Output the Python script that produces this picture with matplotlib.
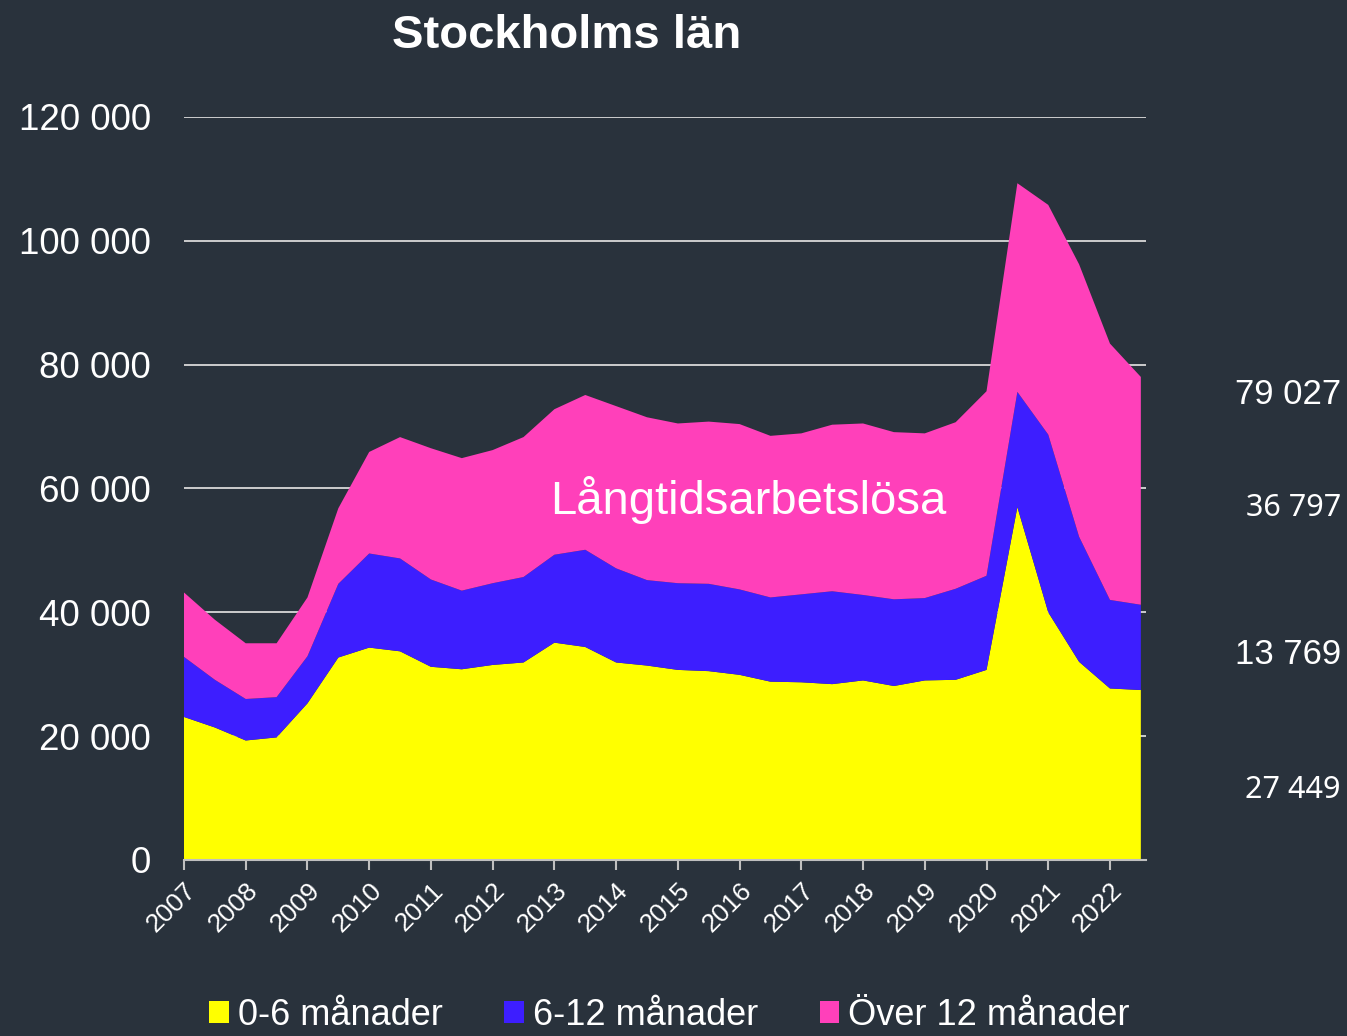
import matplotlib
matplotlib.use("Agg")
import numpy as np
from matplotlib import pyplot as plt
from matplotlib.patches import Patch
from matplotlib.ticker import FuncFormatter

# half-year observations, 2007 .. 2022.5
periods = np.arange(2007.0, 2023.0, 0.5)
years = list(range(2007, 2023))

short_term = [23100, 21400, 19300, 19800, 25300, 32700, 34300, 33700, 31200, 30800,
              31500, 31900, 35100, 34400, 31900, 31400, 30700, 30500, 29900, 28800,
              28700, 28400, 29000, 28100, 29000, 29100, 30700, 57000, 40000, 32000,
              27700, 27449]
mid_term = [9700, 7700, 6700, 6500, 7600, 11900, 15200, 15000, 14100, 12700,
            13200, 13800, 14200, 15700, 15200, 13800, 14000, 14100, 13800, 13600,
            14200, 15000, 13800, 14000, 13300, 14700, 15200, 18600, 28700, 20200,
            14300, 13769]
long_term = [10400, 9700, 9000, 8700, 9500, 12200, 16400, 19600, 21200, 21400,
             21500, 22600, 23500, 25000, 26200, 26300, 25800, 26200, 26700, 26100,
             26000, 26900, 27700, 27000, 26600, 26900, 29800, 33700, 37100, 44000,
             41400, 36797]

series_names = ["0-6 månader", "6-12 månader", "Över 12 månader"]
colors = ["#FFFF00", "#3D1EFF", "#FF40BA"]

# latest values shown to the right of the chart
last_labels = ["79 027", "36 797", "13 769", "27 449"]

bg = "#29323c"
plt.rcParams["font.family"] = ["Liberation Sans", "DejaVu Sans"]

fig = plt.figure(figsize=(13.47, 10.36), dpi=100, facecolor=bg)
ax = fig.add_axes([0.1366, 0.1699, 0.8508 - 0.1366, 0.8871 - 0.1699])
ax.set_facecolor(bg)

ax.stackplot(periods, short_term, mid_term, long_term, colors=colors, linewidth=0)

ax.set_xlim(2007, 2022.584)
ax.set_ylim(0, 120000)
ax.set_yticks(range(0, 120001, 20000))
ax.yaxis.set_major_formatter(FuncFormatter(lambda v, p: f"{int(v):,}".replace(",", " ")))
ax.set_xticks(years)
ax.set_xticklabels([str(y) for y in years], rotation=45, ha="right",
                   rotation_mode="anchor", fontsize=19, color="white")

ax.set_axisbelow(True)
ax.grid(axis="y", color="#d9d9d9", linewidth=1.3)
for side in ["left", "right", "top"]:
    ax.spines[side].set_visible(False)
ax.spines["bottom"].set_color("#bfbfbf")
ax.spines["bottom"].set_linewidth(1.5)
ax.tick_params(axis="y", length=0, pad=24, labelsize=26.5, labelcolor="white")
ax.tick_params(axis="x", length=7, width=1.5, color="#bfbfbf", pad=6)

ax.text(2016.14, 58100, "Långtidsarbetslösa", ha="center", va="center",
        fontsize=34, color="white")

fig.text(0.421, 0.965, "Stockholms län", ha="center", va="center",
         fontsize=34, fontweight="bold", color="white")

label_y = [0.619, 0.5097, 0.368, 0.2375]
label_font = [("Liberation Sans", 25), ("Noto Sans", 22), ("Liberation Sans", 25), ("Noto Sans", 22)]
for txt, y, (fam, size) in zip(last_labels, label_y, label_font):
    fig.text(0.9955, y, txt, ha="right", va="center", fontsize=size,
             family=fam, color="white")

handles = [Patch(facecolor=c, edgecolor="none") for c in colors]
leg = fig.legend(handles, series_names, loc="center", bbox_to_anchor=(0.497, 0.02),
                 ncol=3, frameon=False, fontsize=26, handlelength=0.55,
                 handleheight=0.55, handletextpad=0.25, columnspacing=1.7,
                 labelcolor="white", borderpad=0)

plt.savefig("out.png", dpi=100, facecolor=bg)
plt.close()
